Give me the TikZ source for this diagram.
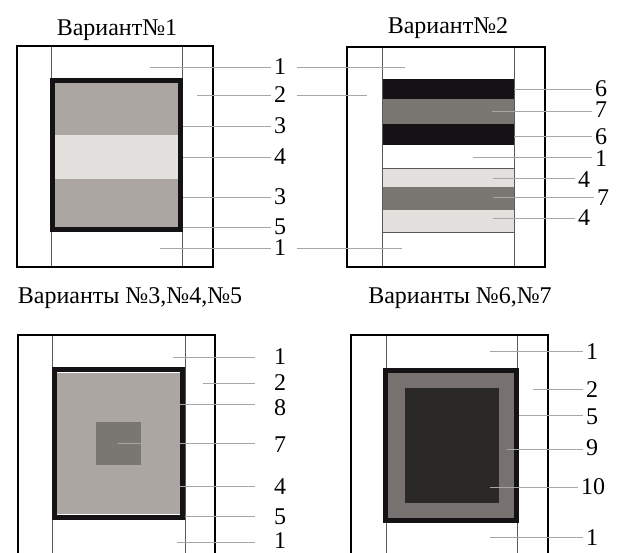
\documentclass[tikz,border=0pt]{standalone}
\usepackage{fontspec}
\setmainfont{Liberation Serif}
\usetikzlibrary{calc}

\definecolor{sloyS}{RGB}{171,166,161}
\definecolor{sloyL}{RGB}{227,225,221}
\definecolor{sloyT}{RGB}{122,118,114}
\definecolor{sloyB}{RGB}{20,18,20}
\definecolor{sloyG}{RGB}{119,114,112}
\definecolor{sloyD}{RGB}{42,41,38}

\begin{document}
\begin{tikzpicture}[x=1pt, y=-1pt,
    zag/.style={font=\fontsize{24}{24}\selectfont},
    num/.style={font=\fontsize{24}{24}\selectfont, inner sep=0.5pt},
    vyn/.style={draw=black!35, line width=0.6pt},
    os/.style={draw=black!65, line width=0.6pt},
    ramka/.style={draw=black, line width=1.6pt},
    kant/.style={draw=sloyB, line width=5pt}]
    % --- 0. размер листа ---
    \useasboundingbox (0,0) rectangle (618,553);

    % --- 1. заголовки ---
    \node[zag] (t1) at (117,30) {Вариант№1};
    \node[zag] (t2) at (448,28) {Вариант№2};
    \node[zag] (t3) at (130,298) {Варианты №3,№4,№5};
    \node[zag] (t4) at (460,298) {Варианты №6,№7};

    % --- 2. вариант 1 ---
    \fill[sloyS] (51,80) rectangle (182,135);
    \fill[sloyL] (51,135) rectangle (182,179);
    \fill[sloyS] (51,179) rectangle (182,232);
    \draw[os] (51,46) -- (51,267);
    \draw[os] (182,46) -- (182,267);
    \draw[ramka] (17,46) rectangle (213,267);
    \draw[kant] (52.5,81) rectangle (180.5,229.5);

    \node[num] (a1) at (280,67) {1};
    \node[num] (a2) at (280,95) {2};
    \node[num] (a3) at (280,126) {3};
    \node[num] (a4) at (280,157) {4};
    \node[num] (a5) at (280,197) {3};
    \node[num] (a6) at (280,227) {5};
    \node[num] (a7) at (280,248) {1};
    \coordinate (p1) at (150,67);
    \coordinate (p2) at (197,95);
    \coordinate (p3) at (183,126);
    \coordinate (p4) at (183,157);
    \coordinate (p5) at (183,197);
    \coordinate (p6) at (183,227);
    \coordinate (p7) at (160,248);
    \draw[vyn, shorten >=2pt] (p1) -- (a1.west);
    \draw[vyn, shorten >=2pt] (p2) -- (a2.west);
    \draw[vyn, shorten >=2pt] (p3) -- (a3.west);
    \draw[vyn, shorten >=2pt] (p4) -- (a4.west);
    \draw[vyn, shorten >=2pt] (p5) -- (a5.west);
    \draw[vyn, shorten >=2pt] (p6) -- (a6.west);
    \draw[vyn, shorten >=2pt] (p7) -- (a7.west);

    % --- 3. вариант 2 ---
    \fill[sloyB] (382,79) rectangle (514,99);
    \fill[sloyT] (382,99) rectangle (514,124);
    \fill[sloyB] (382,124) rectangle (514,145);
    \fill[sloyL] (382,168) rectangle (514,187);
    \fill[sloyT] (382,187) rectangle (514,210);
    \fill[sloyL] (382,210) rectangle (514,232);
    \draw[os] (382,168) -- (514,168);
    \draw[os] (382,232) -- (514,232);
    \draw[os] (382,47) -- (382,267);
    \draw[os] (514,47) -- (514,267);
    \draw[ramka] (347,47) rectangle (545,267);

    % выноски 1, 2, 1 общие с вариантом 1
    \coordinate (q1) at (405,67);
    \coordinate (q2) at (367,95);
    \coordinate (q7) at (402,248);
    \draw[vyn] ([xshift=10pt]a1.east) -- (q1);
    \draw[vyn] ([xshift=10pt]a2.east) -- (q2);
    \draw[vyn] ([xshift=10pt]a7.east) -- (q7);

    \node[num] (b1) at (601,89) {6};
    \node[num] (b2) at (601,110) {7};
    \node[num] (b3) at (601,137) {6};
    \node[num] (b4) at (601,159) {1};
    \node[num] (b5) at (584,180) {4};
    \node[num] (b6) at (603,198) {7};
    \node[num] (b7) at (584,218) {4};
    \coordinate (r1) at (514,89);
    \coordinate (r2) at (492,111);
    \coordinate (r3) at (514,136);
    \coordinate (r4) at (473,157);
    \coordinate (r5) at (493,178);
    \coordinate (r6) at (493,197);
    \coordinate (r7) at (493,218);
    \draw[vyn, shorten >=2pt] (r1) -- (r1 -| b1.west);
    \draw[vyn, shorten >=2pt] (r2) -- (r2 -| b2.west);
    \draw[vyn, shorten >=2pt] (r3) -- (r3 -| b3.west);
    \draw[vyn, shorten >=2pt] (r4) -- (r4 -| b4.west);
    \draw[vyn, shorten >=2pt] (r5) -- (r5 -| b5.west);
    \draw[vyn, shorten >=2pt] (r6) -- (r6 -| b6.west);
    \draw[vyn, shorten >=2pt] (r7) -- (r7 -| b7.west);

    % --- 4. варианты 3, 4, 5 ---
    \fill[sloyS] (57,373) rectangle (180,514);
    \fill[sloyT] (96,422) rectangle (141,465);
    \draw[os] (52,335) -- (52,556);
    \draw[os] (185,335) -- (185,556);
    \draw[ramka] (18,556) -- (18,335) -- (215,335) -- (215,556);
    \draw[kant] (54.5,369.5) rectangle (182.5,517.5);

    \node[num] (c1) at (280,357) {1};
    \node[num] (c2) at (280,383) {2};
    \node[num] (c3) at (280,408) {8};
    \node[num] (c4) at (280,445) {7};
    \node[num] (c5) at (280,487) {4};
    \node[num] (c6) at (280,517) {5};
    \node[num] (c7) at (280,541) {1};
    \coordinate (s1) at (173,357);
    \coordinate (s2) at (203,383);
    \coordinate (s3) at (180,404);
    \coordinate (s4) at (118,443);
    \coordinate (s5) at (155,486);
    \coordinate (s6) at (185,516);
    \coordinate (s7) at (177,542);
    \draw[vyn, shorten >=18pt] (s1) -- (s1 -| c1.west);
    \draw[vyn, shorten >=18pt] (s2) -- (s2 -| c2.west);
    \draw[vyn, shorten >=18pt] (s3) -- (s3 -| c3.west);
    \draw[vyn, shorten >=18pt] (s4) -- (s4 -| c4.west);
    \draw[vyn, shorten >=18pt] (s5) -- (s5 -| c5.west);
    \draw[vyn, shorten >=18pt] (s6) -- (s6 -| c6.west);
    \draw[vyn, shorten >=18pt] (s7) -- (s7 -| c7.west);

    % --- 5. варианты 6, 7 ---
    \fill[sloyG] (385.5,370.5) rectangle (516.5,520.5);
    \fill[sloyD] (405,388) rectangle (499,503);
    \draw[os] (386,335) -- (386,556);
    \draw[os] (517,335) -- (517,556);
    \draw[ramka] (351,556) -- (351,335) -- (548,335) -- (548,556);
    \draw[kant] (385.5,370.5) rectangle (516.5,520.5);

    \node[num] (d1) at (592,352) {1};
    \node[num] (d2) at (592,390) {2};
    \node[num] (d3) at (592,417) {5};
    \node[num] (d4) at (592,448) {9};
    \node[num] (d5) at (593,487) {10};
    \node[num] (d6) at (592,538) {1};
    \coordinate (u1) at (490,351);
    \coordinate (u2) at (533,389);
    \coordinate (u3) at (519,415);
    \coordinate (u4) at (507,449);
    \coordinate (u5) at (490,487);
    \coordinate (u6) at (490,537);
    \draw[vyn, shorten >=2pt] (u1) -- (u1 -| d1.west);
    \draw[vyn, shorten >=2pt] (u2) -- (u2 -| d2.west);
    \draw[vyn, shorten >=2pt] (u3) -- (u3 -| d3.west);
    \draw[vyn, shorten >=2pt] (u4) -- (u4 -| d4.west);
    \draw[vyn, shorten >=2pt] (u5) -- (u5 -| d5.west);
    \draw[vyn, shorten >=2pt] (u6) -- (u6 -| d6.west);

\end{tikzpicture}
\end{document}
